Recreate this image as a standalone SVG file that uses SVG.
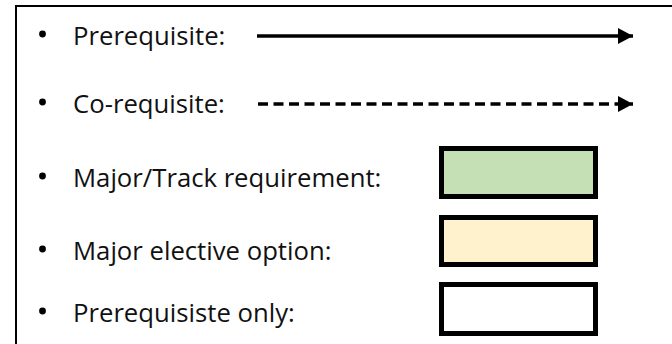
<svg xmlns="http://www.w3.org/2000/svg" width="672" height="344" viewBox="0 0 672 344">
  <defs>
    <marker id="arrow" markerUnits="userSpaceOnUse" markerWidth="16" markerHeight="17" refX="15" refY="8" orient="auto">
      <path d="M0,0 L15,8 L0,16 Z" fill="#000"/>
    </marker>
    <style>
      .lbl { font-family: "Open Sans", "Liberation Sans", sans-serif; font-size: 25.7px; fill: #111; }
      .bul { fill: #000; }
      .box { stroke: #000; stroke-width: 5; }
      .ln { stroke: #000; stroke-width: 3.5; fill: none; }
    </style>
  </defs>
  <rect x="0" y="0" width="672" height="344" fill="#fff"/>
  <rect x="16" y="6" width="720" height="400" fill="none" stroke="#000" stroke-width="2"/>

  <g id="item-prerequisite">
    <circle class="bul" cx="42.5" cy="34" r="3.4"/>
    <text class="lbl" x="73" y="45">Prerequisite:</text>
  </g>
  <g id="item-corequisite">
    <circle class="bul" cx="42.5" cy="102" r="3.4"/>
    <text class="lbl" x="73" y="113">Co-requisite:</text>
  </g>
  <g id="item-major-track">
    <circle class="bul" cx="42.5" cy="176" r="3.4"/>
    <text class="lbl" x="73" y="187">Major/Track requirement:</text>
    <rect class="box" x="441.5" y="148.5" width="154" height="48" fill="#C5E0B4"/>
  </g>
  <g id="item-major-elective">
    <circle class="bul" cx="42.5" cy="249" r="3.4"/>
    <text class="lbl" x="73" y="260">Major elective option:</text>
    <rect class="box" x="441.5" y="217.5" width="154" height="47" fill="#FFF2CC"/>
  </g>
  <g id="item-prereq-only">
    <circle class="bul" cx="42.5" cy="311" r="3.4"/>
    <text class="lbl" x="73" y="322">Prerequisiste only:</text>
    <rect class="box" x="441.5" y="284.5" width="154" height="49" fill="#FFFFFF"/>
  </g>

  <g id="connectors">
    <line class="ln" x1="257" y1="36" x2="633" y2="36" marker-end="url(#arrow)"/>
    <line class="ln" x1="258" y1="104" x2="633" y2="104" stroke-dasharray="10 5.5" marker-end="url(#arrow)"/>
  </g>
</svg>
